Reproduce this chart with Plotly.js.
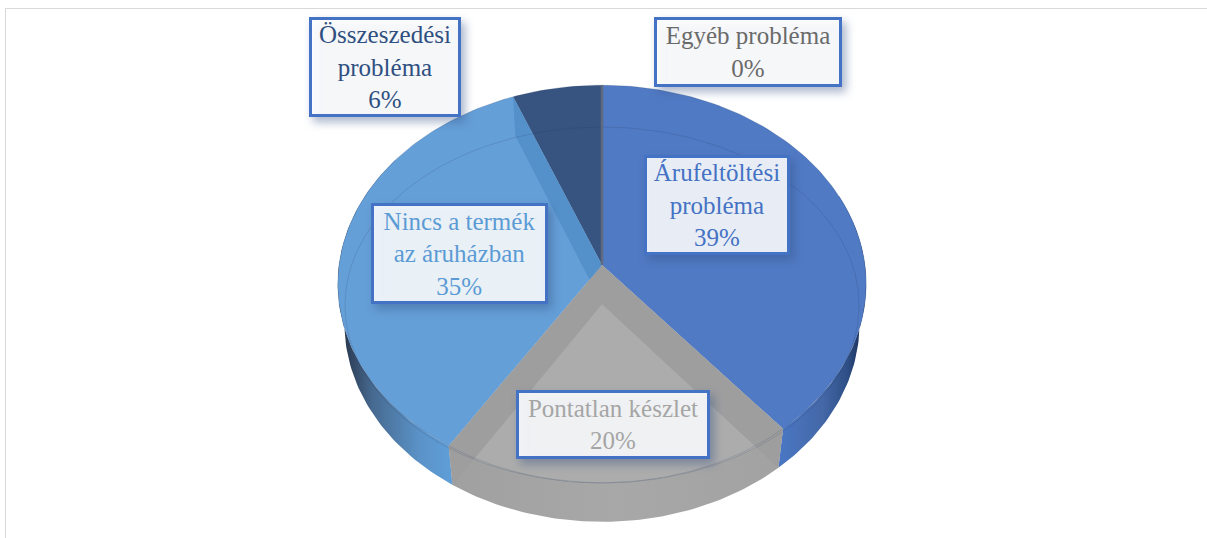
<!DOCTYPE html>
<html>
<head>
<meta charset="utf-8">
<script src="https://cdn.plot.ly/plotly-3.0.1.min.js"></script>
<style>
html,body{margin:0;padding:0;background:#fff;}
#chart{width:1207px;height:538px;}
.annotation rect.bg, .annotation-text-g rect{filter:drop-shadow(4px 5px 5px rgba(50,80,130,.45));}
</style>
</head>
<body>
<div id="chart"></div>
<script>
// ---- data ----
const categories = ["Árufeltöltési<br>probléma", "Pontatlan készlet", "Nincs a termék<br>az áruházban", "Összeszedési<br>probléma", "Egyéb probléma"];
const percents = [39, 20, 35, 6, 0];
const textColors = ["#4472c4", "#a5a5a5", "#5b9bd5", "#2f4f80", "#6a6a6a"];
const faceColors = ["#507ac4", "#a6a6a6", "#659fd7", "#375380", "#5f6b7d"];
const boxCenters = [[717, 205], [613, 424.5], [459.5, 253], [384.5, 67], [748, 52]];
const boxSizes = [[140, 94], [188, 63], [171, 95], [146, 94], [182, 64]];

// ---- projection of the tilted disc ----
const CX = 602, CY = 265, RX = 263, RY = 197, PERSP = 0.0954;
const DEPTH = 39, SHRINK = 0.975;
const INNER_CY = 305, INNER_RX = 257, INNER_RY = 178;
const rad = p => p / 100 * 2 * Math.PI;
function rimPt(a) {
  const u = Math.sin(a), v = -Math.cos(a), d = 1 - PERSP * v;
  return [CX + RX * u / d, CY + RY * v / d];
}
const lowPt = p => [CX + (p[0] - CX) * SHRINK, p[1] + DEPTH];
const PIVOT = [CX, CY], LOW_PIVOT = lowPt(PIVOT);
function arc(a0, a1, fn) {
  const n = Math.max(2, Math.ceil(Math.abs(a1 - a0) / 0.02)), out = [];
  for (let i = 0; i <= n; i++) out.push(fn(a0 + (a1 - a0) * i / n));
  return out;
}
const innerPt = a => [CX + INNER_RX * Math.sin(a), INNER_CY - INNER_RY * Math.cos(a)];
function cross(p1, p2, p3, p4) {
  const d = (p1[0]-p2[0])*(p3[1]-p4[1]) - (p1[1]-p2[1])*(p3[0]-p4[0]);
  const a = p1[0]*p2[1]-p1[1]*p2[0], b = p3[0]*p4[1]-p3[1]*p4[0];
  return [(a*(p3[0]-p4[0])-(p1[0]-p2[0])*b)/d, (a*(p3[1]-p4[1])-(p1[1]-p2[1])*b)/d];
}
// cumulative slice limits, clockwise from twelve o'clock
const limits = [0];
percents.forEach(v => limits.push(limits[limits.length - 1] + v));
const [A0, A1, A2, A3, A4] = limits.map(rad);

function poly(pts, color, extra) {
  const t = {
    type: "scatter", mode: "lines", x: pts.map(p => p[0]), y: pts.map(p => p[1]),
    fill: "toself", line: {width: 0}, hoverinfo: "skip", showlegend: false
  };
  if (color) t.fillcolor = color;
  return Object.assign(t, extra || {});
}
function wall(a0, a1, grad) {
  const pts = arc(a0, a1, rimPt).concat(arc(a1, a0, a => lowPt(rimPt(a))));
  return poly(pts, null, {fillgradient: grad});
}
function edge(pts, color, width) {
  return {type: "scatter", mode: "lines", x: pts.map(p => p[0]), y: pts.map(p => p[1]),
    line: {color: color, width: width}, hoverinfo: "skip", showlegend: false};
}
const wedge = (a0, a1) => [PIVOT].concat(arc(a0, a1, rimPt));

// side walls
const traces = [
  wall(A0 + 1.2, A1, {type: "horizontal", start: 776, stop: 860,
    colorscale: [[0, "#4a78c6"], [0.55, "#4468a8"], [0.85, "#2e4f86"], [1, "#1e3560"]]}),
  wall(A2, A3 - 0.6, {type: "horizontal", start: 345, stop: 452,
    colorscale: [[0, "#2a3a52"], [0.25, "#46698f"], [0.7, "#5b93c8"], [1, "#5f9ed8"]]}),
  wall(A1, A2, {type: "horizontal", start: 452, stop: 776,
    colorscale: [[0, "#a0a0a0"], [0.5, "#a8a8a8"], [1, "#a2a2a2"]]})
];

// top faces
traces.push(poly(wedge(A0, A1), faceColors[0]));
traces.push(poly(wedge(A1, A2), faceColors[1]));
traces.push(poly(wedge(A2, A3), faceColors[2]));
traces.push(poly(wedge(A3, A4), faceColors[3]));

// grey slice: translucent look, floor seen through the top
const cR = rimPt(A1), cL = rimPt(A2), lR = lowPt(cR), lL = lowPt(cL);
const angleTo = p => Math.atan2((p[0] - CX) / INNER_RX, -(p[1] - INNER_CY) / INNER_RY);
const aR = angleTo(lR), aL = angleTo(lL) + 2 * Math.PI;
const iR = innerPt(aR), iL = innerPt(aL);
traces.push(poly([LOW_PIVOT].concat(arc(aR, aL, innerPt)), "#acacac"));
traces.push(poly([PIVOT, cR, lR, iR, LOW_PIVOT, iL, lL, cL, PIVOT], "#9e9e9f"));

// blue slice: band along the boundary to the dark slice
const cD = rimPt(A3), lD = lowPt(cD);
const tip = cross(LOW_PIVOT, lD, PIVOT, cL);
traces.push(poly([PIVOT, cD, lD, tip], "#5491cb"));

// thin rim ellipse and outline
traces.push(edge(arc(0, 2 * Math.PI, innerPt), "rgba(30,45,80,0.2)", 0.8));
traces.push(edge(arc(0, 2 * Math.PI, rimPt), "rgba(40,60,100,0.3)", 0.6));

// the 0 % slice appears as a hairline at twelve o'clock
traces.push(edge([PIVOT, rimPt(A4)], faceColors[4], 2.5));

const annotations = categories.map((c, i) => ({
  xref: "x", yref: "y", x: boxCenters[i][0], y: boxCenters[i][1],
  xanchor: "center", yanchor: "middle", showarrow: false,
  text: c + "<br>" + percents[i] + "%",
  width: boxSizes[i][0], height: boxSizes[i][1], align: "center", valign: "middle",
  font: {family: "Liberation Serif, serif", size: 25, color: textColors[i]},
  bgcolor: "rgba(255,255,255,0.88)", bordercolor: "#4472c4", borderwidth: 3, borderpad: 0
}));

const shapes = [
  {type: "line", xref: "x", yref: "y", x0: 5, x1: 1207, y0: 8.5, y1: 8.5, line: {color: "#d9d9d9", width: 1}, layer: "below"},
  {type: "line", xref: "x", yref: "y", x0: 5.5, x1: 5.5, y0: 8, y1: 538, line: {color: "#d9d9d9", width: 1}, layer: "below"}
];

const hidden = {visible: false, fixedrange: true};
const layout = {
  width: 1207, height: 538, margin: {l: 0, r: 0, t: 0, b: 0},
  paper_bgcolor: "#fff", plot_bgcolor: "#fff", showlegend: false, hovermode: false,
  xaxis: Object.assign({range: [0, 1207]}, hidden),
  yaxis: Object.assign({range: [538, 0]}, hidden),
  annotations, shapes
};
Plotly.newPlot("chart", traces, layout, {staticPlot: true, displayModeBar: false});
</script>
</body>
</html>
